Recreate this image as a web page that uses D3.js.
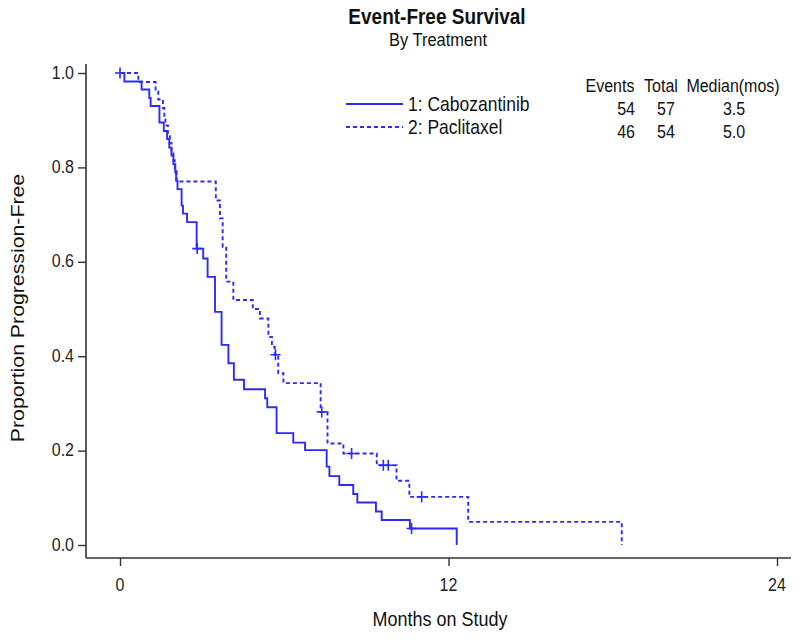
<!DOCTYPE html>
<html>
<head>
<meta charset="utf-8">
<script src="https://cdn.jsdelivr.net/npm/d3@7"></script>
<style>
  html, body { margin: 0; padding: 0; background: #fff; }
  svg { display: block; font-family: "Liberation Sans", Arial, sans-serif; }
</style>
</head>
<body>
<svg id="chart" width="800" height="640"></svg>
<script>
// ---- data ----
const seriesNames = ["1: Cabozantinib", "2: Paclitaxel"];
const seriesEvents = [54, 46];
const seriesTotals = [57, 54];
const seriesMedians = ["3.5", "5.0"];

const caboTimes = [0.16,0.79,1.07,1.12,1.44,1.60,1.72,1.80,1.88,1.95,2.02,2.05,2.10,2.25,2.30,2.45,2.80,3.04,3.20,3.47,3.71,3.96,4.16,4.53,5.30,5.38,5.72,6.33,6.76,7.55,7.65,8.01,8.52,8.67,9.35,9.56,10.59,12.30];
const caboSurv  = [0.982,0.965,0.947,0.930,0.895,0.877,0.860,0.842,0.825,0.807,0.789,0.772,0.754,0.719,0.702,0.684,0.628,0.607,0.568,0.494,0.424,0.385,0.350,0.330,0.311,0.292,0.237,0.217,0.201,0.166,0.146,0.127,0.108,0.090,0.071,0.053,0.035,0.0];
const caboCensor = [0, 2.82, 10.65];

const pacliTimes = [0.67,1.30,1.40,1.57,1.62,1.66,1.75,1.82,1.88,1.95,2.00,2.07,3.50,3.65,3.75,3.88,4.14,4.85,5.11,5.42,5.55,5.65,5.78,5.97,7.33,7.58,8.16,9.38,10.10,10.57,12.72,18.33];
const pacliSurv  = [0.981,0.963,0.944,0.926,0.907,0.889,0.870,0.852,0.833,0.815,0.796,0.770,0.730,0.692,0.632,0.558,0.519,0.500,0.480,0.441,0.420,0.403,0.364,0.343,0.282,0.215,0.194,0.169,0.136,0.102,0.049,0.0];
const pacliCensor = [5.68, 7.37, 8.46, 9.62, 9.80, 11.02];

const xTicks = [0, 12, 24];
const yTicks = [0, 0.2, 0.4, 0.6, 0.8, 1.0];

// ---- layout ----
const blue = "#2b2bff";
const axisColor = "#333";
const svg = d3.select("#chart");
const x = d3.scaleLinear().domain([0, 24]).range([120, 777]);
const y = d3.scaleLinear().domain([0, 1]).range([545, 73]);
const axisLeftX = 86, axisBottomY = 558, axisTopY = 64, axisRightX = 791;
const stretch = 1.12;

function stext(g, tx, ty, str, opts) {
  const t = g.append("g").attr("transform", `translate(${tx},${ty}) scale(1,${stretch})`)
    .append("text").text(str)
    .attr("text-anchor", opts.anchor || "start")
    .attr("font-size", opts.size || 16)
    .attr("font-weight", opts.weight || "normal")
    .attr("fill", opts.fill || "#111");
  return t;
}

// axes lines
svg.append("line").attr("x1", axisLeftX).attr("x2", axisLeftX).attr("y1", axisTopY).attr("y2", axisBottomY)
  .attr("stroke", axisColor).attr("stroke-width", 1.6);
svg.append("line").attr("x1", axisLeftX).attr("x2", axisRightX).attr("y1", axisBottomY).attr("y2", axisBottomY)
  .attr("stroke", axisColor).attr("stroke-width", 1.6);

// y axis ticks
const yAxis = d3.axisLeft(y).tickValues(yTicks).tickSize(8).tickFormat(d3.format(".1f"));
const gy = svg.append("g").attr("transform", `translate(${axisLeftX},0)`).call(yAxis);
gy.select(".domain").remove();
gy.selectAll(".tick line").attr("stroke", axisColor).attr("stroke-width", 1.4);
gy.selectAll(".tick text").remove();
yTicks.forEach(v => {
  stext(svg, axisLeftX - 12, y(v) + 5.5, d3.format(".1f")(v), {anchor: "end", size: 16, fill: "#222"});
});

// x axis ticks
const xAxis = d3.axisBottom(x).tickValues(xTicks).tickSize(8);
const gx = svg.append("g").attr("transform", `translate(0,${axisBottomY})`).call(xAxis);
gx.select(".domain").remove();
gx.selectAll(".tick line").attr("stroke", axisColor).attr("stroke-width", 1.4);
gx.selectAll(".tick text").remove();
xTicks.forEach(v => {
  stext(svg, x(v), 591, String(v), {anchor: "middle", size: 16, fill: "#222"});
});

// axis titles
stext(svg, 440, 626, "Months on Study", {anchor: "middle", size: 18, fill: "#111"});
svg.append("g").attr("transform", `translate(24,308) rotate(-90) scale(${stretch},1)`)
  .append("text").text("Proportion Progression-Free")
  .attr("text-anchor", "middle").attr("font-size", 19).attr("fill", "#111");

// titles
stext(svg, 437, 24, "Event-Free Survival", {anchor: "middle", size: 19, weight: "bold", fill: "#111"});
stext(svg, 438, 46, "By Treatment", {anchor: "middle", size: 16.5, fill: "#111"});

// curves
function kmPoints(times, surv) {
  const pts = [[0, 1]];
  times.forEach((t, i) => pts.push([t, surv[i]]));
  return pts;
}
function survAt(times, surv, t) {
  let s = 1;
  times.forEach((tt, i) => { if (tt <= t) s = surv[i]; });
  return s;
}
const line = d3.line().x(d => x(d[0])).y(d => y(d[1])).curve(d3.curveStepAfter);

const series = [
  {times: caboTimes, surv: caboSurv, censor: caboCensor, dash: null},
  {times: pacliTimes, surv: pacliSurv, censor: pacliCensor, dash: "4,3"}
];

series.forEach(s => {
  svg.append("path").datum(kmPoints(s.times, s.surv))
    .attr("d", line).attr("fill", "none").attr("stroke", blue)
    .attr("stroke-width", 1.9).attr("stroke-dasharray", s.dash);
  s.censor.forEach(c => {
    const cx = x(c), cy = y(survAt(s.times, s.surv, c));
    svg.append("path").attr("d", `M${cx - 5},${cy}H${cx + 5}M${cx},${cy - 5.5}V${cy + 5.5}`)
      .attr("stroke", blue).attr("stroke-width", 1.6).attr("fill", "none");
  });
});

// legend
const legX1 = 346, legX2 = 403, legTextX = 408;
const rowY = [104, 127];
stext(svg, 610, 92, "Events", {anchor: "middle", size: 16});
stext(svg, 661, 92, "Total", {anchor: "middle", size: 16});
stext(svg, 733, 92, "Median(mos)", {anchor: "middle", size: 16});
series.forEach((s, i) => {
  svg.append("line").attr("x1", legX1).attr("x2", legX2).attr("y1", rowY[i]).attr("y2", rowY[i])
    .attr("stroke", blue).attr("stroke-width", 1.9).attr("stroke-dasharray", s.dash);
  stext(svg, legTextX, rowY[i] + 7, seriesNames[i], {anchor: "start", size: 17.5});
  stext(svg, 635, rowY[i] + 11, String(seriesEvents[i]), {anchor: "end", size: 16});
  stext(svg, 666, rowY[i] + 11, String(seriesTotals[i]), {anchor: "middle", size: 16});
  stext(svg, 734, rowY[i] + 11, seriesMedians[i], {anchor: "middle", size: 16});
});
</script>
</body>
</html>
